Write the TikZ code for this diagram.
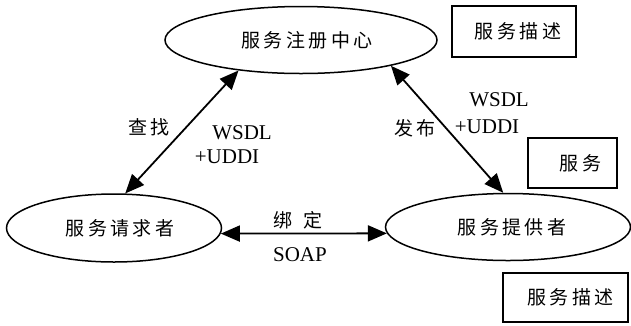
\documentclass[tikz,border=0pt]{standalone}
\usepackage{fontspec}
\setmainfont{Liberation Serif}
\newfontfamily\cjk[LetterSpace=18]{Noto Sans CJK SC}
\usetikzlibrary{shapes.geometric,arrows.meta}

\begin{document}
\begin{tikzpicture}[x=1pt,y=-1pt,
  oval/.style={ellipse,draw,line width=1.5pt,inner sep=0pt,
    font=\cjk\fontsize{19}{19}\selectfont},
  tag/.style={draw,line width=1.7pt,inner sep=0pt,
    font=\cjk\fontsize{19}{19}\selectfont},
  link/.style={line width=1.8pt,
    {Triangle[length=19pt,width=16pt]}-{Triangle[length=19pt,width=16pt]}},
  zh/.style={font=\cjk\fontsize{19}{19}\selectfont,inner sep=0pt},
  en/.style={font=\fontsize{21}{21}\selectfont,inner sep=0pt}]
\useasboundingbox (0,0) rectangle (631,325);

% the three roles
\node[oval,minimum width=272pt,minimum height=67pt] (reg) at (301,40) {\hspace*{12pt}服务注册中心};
\node[oval,minimum width=215pt,minimum height=68pt] (req) at (114,228) {\hspace*{12pt}服务请求者};
\node[oval,minimum width=245pt,minimum height=67pt] (prov) at (508,227) {\hspace*{8pt}服务提供者};

% boxed items
\node[tag,minimum width=124pt,minimum height=51pt] (descA) at (514,31.5) {\hspace*{8pt}服务描述};
\node[tag,minimum width=89pt,minimum height=50pt] (svc) at (572.5,163) {\hspace*{16pt}服务};
\node[tag,minimum width=125pt,minimum height=49pt] (descB) at (565.5,297.5) {\hspace*{10pt}服务描述};

% interactions
\draw[link] (req.72) -- (reg.206);
\draw[link] (prov.98) -- (reg.344);
\draw[link] (req.-3) -- (prov.183);

% labels
\node[zh] (find) at (149,127) {查找};
\node[en] (wsdlA) at (242,133) {WSDL};
\node[en] (uddiA) at (227,157) {+UDDI};
\node[zh] (pub) at (415,128) {发布};
\node[en] (wsdlB) at (499,100) {WSDL};
\node[en] (uddiB) at (487,127) {+UDDI};
\node[zh] (bind) at (298,220) {绑\hspace{12pt}定};
\node[en] (soap) at (300,255) {SOAP};
\end{tikzpicture}
\end{document}
